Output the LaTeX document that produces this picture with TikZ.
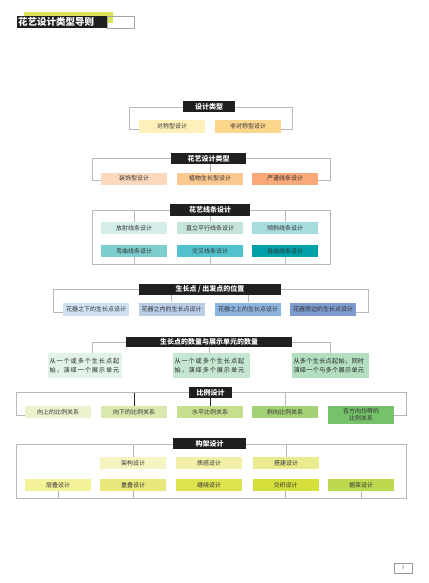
\documentclass[tikz,border=0pt]{standalone}
\usepackage{fontspec}
\setmainfont{Noto Sans CJK SC}
\begin{document}
\begin{tikzpicture}[x=1pt,y=-1pt,
  frame/.style={draw=black!28,line width=0.8pt},
  dark/.style={draw=black!85,line width=0.8pt},
  ttl/.style={fill=black!88,text=white,font=\fontsize{7}{8}\selectfont\bfseries,inner sep=0pt,minimum height=11pt},
  bx/.style={inner sep=0pt,minimum width=66pt,minimum height=12pt,text=black!80,font=\fontsize{6}{7}\selectfont},
  tb/.style={inner sep=1.5pt,text width=71pt,align=left,minimum height=25pt,text=black!85,font=\fontsize{6.2}{8.6}\selectfont}
]
\useasboundingbox (0,0) rectangle (428,583);
% header
\fill[fill={rgb,255:red,222;green,228;blue,88}] (24,12) rectangle (113,23);
\node[fill=black!88,text=white,font=\fontsize{9.5}{10}\selectfont\bfseries,anchor=west,inner sep=0pt,minimum height=12pt,minimum width=90pt,align=left,text width=90pt] (hd) at (17,22) {\hspace{1pt}花艺设计类型导则};
\node[draw=black!35,line width=0.6pt,anchor=west,inner sep=0pt,minimum width=27pt,minimum height=12pt] (hdb) at (hd.east) {};

% section 1
\node[ttl,minimum width=52pt] (t1) at (209,107) {设计类型};
\node[bx,fill={rgb,255:red,253;green,240;blue,184}] (a1) at (172,126.5) {对称型设计};
\node[bx,fill={rgb,255:red,251;green,215;blue,142}] (a2) at (248,126.5) {非对称型设计};
\coordinate (c1l) at (129,129); \coordinate (c1r) at (292,129);
\draw[frame] (t1.west) -| (c1l) -- (a1.west |- c1l);
\draw[frame] (t1.east) -| (c1r) -- (a2.east |- c1r);

% section 2
\node[ttl,minimum width=75pt] (t2) at (208.5,158.5) {花艺设计类型};
\node[bx,fill={rgb,255:red,252;green,217;blue,188}] (b1) at (134,178.5) {装饰型设计};
\node[bx,fill={rgb,255:red,251;green,200;blue,144}] (b2) at (210,178.5) {植物生长型设计};
\node[bx,fill={rgb,255:red,249;green,168;blue,120}] (b3) at (285,178.5) {严谨线条设计};
\coordinate (c2l) at (92,180); \coordinate (c2r) at (330,180);
\draw[frame] (t2.west) -| (c2l) -- (b1.west |- c2l);
\draw[frame] (t2.east) -| (c2r) -- (b3.east |- c2r);
\draw[frame] (b2.north |- t2.south) -- (b2.north);

% section 3
\draw[frame] (92,210) rectangle (330,264);
\node[ttl,minimum width=80pt,minimum height=12pt] (t3) at (210,210) {花艺线条设计};
\node[bx,fill={rgb,255:red,213;green,238;blue,234}] (c11) at (134,228) {放射线条设计};
\node[bx,fill={rgb,255:red,196;green,228;blue,220}] (c12) at (210,228) {直立平行线条设计};
\node[bx,fill={rgb,255:red,167;green,220;blue,222}] (c13) at (285,228) {倾斜线条设计};
\node[bx,fill={rgb,255:red,126;green,206;blue,206}] (c21) at (134,251) {弯曲线条设计};
\node[bx,fill={rgb,255:red,82;green,195;blue,206}] (c22) at (210,251) {交叉线条设计};
\node[bx,fill={rgb,255:red,0;green,160;blue,168}] (c23) at (285,251) {自由线条设计};
\draw[frame] (c11.north |- 0,210) -- (c11.north);
\draw[frame] (t3.south) -- (c12.north);
\draw[frame] (c13.north |- 0,210) -- (c13.north);
\draw[frame] (c21.south) -- (c21.south |- 0,264);
\draw[frame] (c22.south) -- (c22.south |- 0,264);
\draw[frame] (c23.south) -- (c23.south |- 0,264);

% section 4
\node[ttl,minimum width=142pt] (t4) at (210,289.5) {生长点 / 出发点的位置};
\node[bx,minimum height=13pt,fill={rgb,255:red,207;green,225;blue,242}] (d1) at (96,309) {花器之下的生长点设计};
\node[bx,minimum height=13pt,fill={rgb,255:red,185;green,205;blue,231}] (d2) at (171.5,309) {花器之内的生长点设计};
\node[bx,minimum height=13pt,fill={rgb,255:red,141;green,179;blue,223}] (d3) at (248,309) {花器之上的生长点设计};
\node[bx,minimum height=13pt,fill={rgb,255:red,126;green,155;blue,207}] (d4) at (323,309) {花器旁边的生长点设计};
\coordinate (c4l) at (53,312); \coordinate (c4r) at (368,312);
\draw[frame] (t4.west) -| (c4l) -- (d1.west |- c4l);
\draw[frame] (t4.east) -| (c4r) -- (d4.east |- c4r);
\draw[frame] (t4.south -| d2.north) -- (d2.north);
\draw[frame] (t4.south -| d3.north) -- (d3.north);

% section 5
\node[ttl,minimum width=166pt,minimum height=10pt] (t5) at (209,342) {生长点的数量与展示单元的数量};
\node[tb,fill={rgb,255:red,227;green,242;blue,231}] (e1) at (85,365.5) {\addfontfeatures{LetterSpace=14}从一个或多个生长点起\\始，演绎一个展示单元};
\node[tb,fill={rgb,255:red,197;green,230;blue,207},text width=74pt] (e2) at (211.5,365.5) {\addfontfeatures{LetterSpace=14}从一个或多个生长点起\\始，演绎多个展示单元};
\node[tb,fill={rgb,255:red,179;green,222;blue,192},text width=74pt] (e3) at (330.5,365.5) {\addfontfeatures{LetterSpace=4}从多个生长点起始，同时\\演绎一个与多个展示单元};
\draw[frame] (t5.west) -| ([xshift=7pt]e1.north);
\draw[frame] (t5.east) -| (e3.north);
\draw[frame] (t5.south) -- (e2.north -| t5.south);

% section 6
\node[bx,fill={rgb,255:red,234;green,242;blue,206}] (g1) at (58,412) {向上的比例关系};
\node[bx,fill={rgb,255:red,217;green,232;blue,174}] (g2) at (134,412) {向下的比例关系};
\node[bx,fill={rgb,255:red,198;green,223;blue,142}] (g3) at (210,412) {水平比例关系};
\node[bx,fill={rgb,255:red,163;green,209;blue,117}] (g4) at (285,412) {斜向比例关系};
\node[bx,minimum height=18pt,align=center,fill={rgb,255:red,118;green,194;blue,106}] (g5) at (361,415) {各方向均等的\\比例关系};
\coordinate (c6l) at (16,415); \coordinate (c6r) at (406,415);
\node[ttl,minimum width=43pt] (t6) at (210.5,392.5) {比例设计};
\draw[frame] (t6.west) -| (c6l) -- (g1.west |- c6l);
\draw[frame] (t6.east) -| (c6r) -- (g5.east |- c6r);
\draw[frame] (t6.east -| g4.north) -- (g4.north);
\draw[dark] (t6.west -| g2.north) -- (g2.north);
\draw[dark] (t6.south -| g3.north) -- (g3.north);

% section 7
\draw[frame] (16,444) rectangle (406,498);
\node[ttl,minimum width=73pt] (t7) at (209.5,443.5) {构架设计};
\node[bx,fill={rgb,255:red,246;green,245;blue,194}] (h1) at (133,463) {架构设计};
\node[bx,fill={rgb,255:red,242;green,240;blue,168}] (h2) at (209,463) {质感设计};
\node[bx,fill={rgb,255:red,233;green,235;blue,142}] (h3) at (286,463) {搭建设计};
\node[bx,fill={rgb,255:red,244;green,243;blue,154}] (k1) at (58,485) {层叠设计};
\node[bx,fill={rgb,255:red,233;green,232;blue,122}] (k2) at (133,485) {重叠设计};
\node[bx,fill={rgb,255:red,221;green,226;blue,79}] (k3) at (209,485) {缠绕设计};
\node[bx,fill={rgb,255:red,214;green,224;blue,60}] (k4) at (285.5,485) {交织设计};
\node[bx,fill={rgb,255:red,188;green,216;blue,79}] (k5) at (361,485) {捆束设计};
\draw[frame] (h1.north |- 0,444) -- (h1.north);
\draw[frame] (h3.north |- 0,444) -- (h3.north);
\draw[frame] (k1.south) -- (k1.south |- 0,498);
\draw[frame] (k2.south) -- (k2.south |- 0,498);
\draw[frame] (k4.south) -- (k4.south |- 0,498);
\draw[frame] (k5.south) -- (k5.south |- 0,498);

% page number
\node[draw=black!40,line width=0.5pt,minimum width=18pt,minimum height=10pt,inner sep=0pt,font=\fontsize{4.5}{5}\selectfont,text=black!70] (pg) at (403,568) {7};
\end{tikzpicture}
\end{document}
